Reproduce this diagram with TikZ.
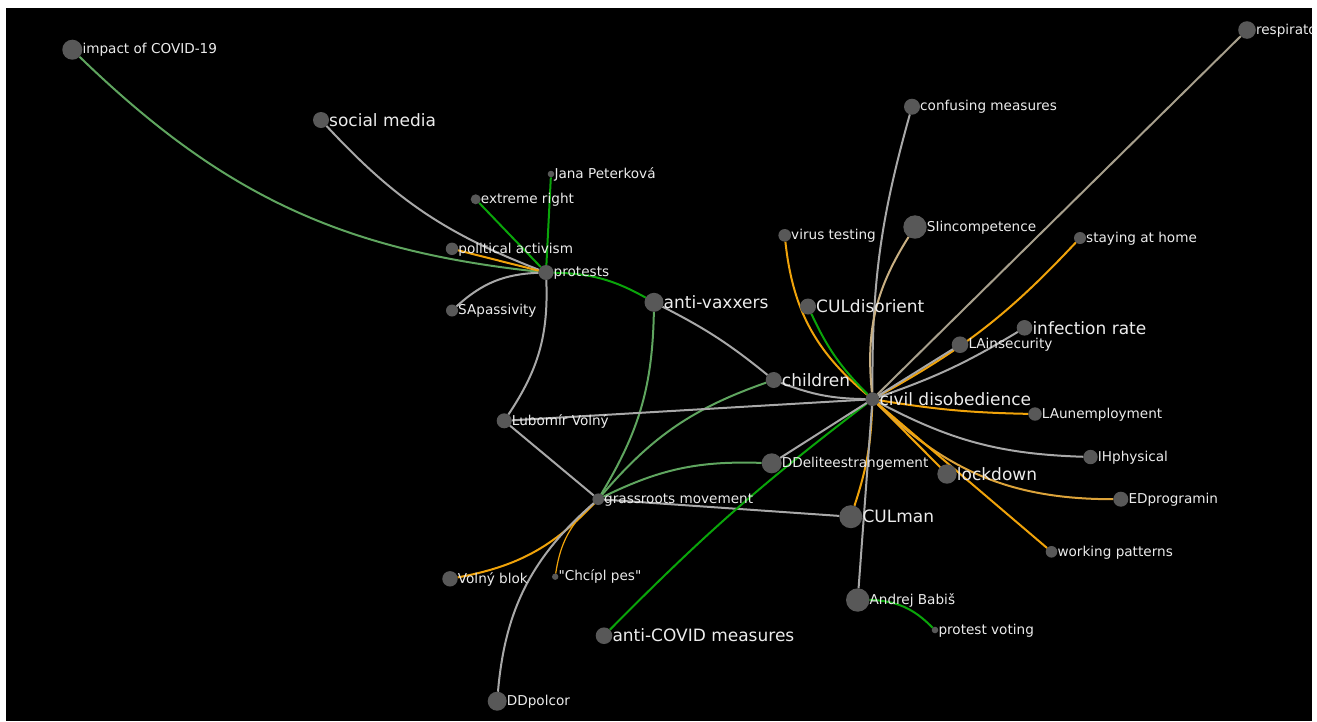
\documentclass[tikz,border=0pt]{standalone}
\usepackage{fontspec}
\setmainfont{DejaVu Sans}
% plain family without TeX ligatures, so " stays a straight quote
\newfontfamily\lblfont{DejaVu Sans}

\definecolor{vtxfill}{HTML}{585858}
\definecolor{lbltext}{HTML}{ECECEC}
\definecolor{lkgray}{HTML}{A8A8A8}
\definecolor{lkpale}{HTML}{5FA55F}
\definecolor{lkgreen}{HTML}{0AA50A}
\definecolor{lkorange}{HTML}{F0A30A}
\definecolor{lkamber}{HTML}{DCA33A}
\definecolor{lktan}{HTML}{C9B083}
\definecolor{lktaupe}{HTML}{A79F8C}

\pgfdeclarelayer{canvas}
\pgfdeclarelayer{links}
\pgfsetlayers{canvas,links,main}

% circle + label, left-anchored text just right of the circle
\newcommand\placenode[6]{%
  \node[vtx, minimum size=#4*2pt] (#1) at (#2,#3) {};
  \node[#5] (#1-t) at (#2+#4,#3) {#6};}

\begin{document}
\begin{tikzpicture}[x=1pt,y=-1pt,
  vtx/.style={circle, fill=vtxfill, inner sep=0pt, outer sep=0pt},
  lblS/.style={anchor=base west, inner sep=0pt, yshift=-4.2pt,
    text=lbltext, font=\lblfont\fontsize{13.6}{16}\selectfont},
  lblL/.style={anchor=base west, inner sep=0pt, yshift=-6.2pt,
    text=lbltext, font=\lblfont\fontsize{17}{20}\selectfont},
  link/.style={line width=2pt},
  lgray/.style={link, draw=lkgray},
  lpale/.style={link, draw=lkpale},
  lgreen/.style={link, draw=lkgreen},
  lorange/.style={link, draw=lkorange},
  lamber/.style={link, draw=lkamber},
  ltan/.style={link, draw=lktan},
  ltaupe/.style={link, draw=lktaupe},
]
\useasboundingbox (0,0) rectangle (1317,721);
\begin{pgfonlayer}{canvas}
  \fill[white] (0,0) rectangle (1317,721);
  \fill[black] (6,8) rectangle (1312,721);
\end{pgfonlayer}

\begin{scope}
\clip (6,8) rectangle (1312,721);
% vertices
\placenode{impact}{72.3}{49.7}{10}{lblS}{impact of COVID-19}
\placenode{resp}{1247}{30}{8.8}{lblS}{respirators}
\placenode{social}{321}{120}{8}{lblL}{social media}
\placenode{jana}{551}{174}{3.3}{lblS}{Jana Peterková}
\placenode{extreme}{475.7}{199.3}{5}{lblS}{extreme right}
\placenode{polact}{452}{248.8}{6.2}{lblS}{political activism}
\placenode{protests}{546}{272.5}{7.5}{lblS}{protests}
\placenode{sapass}{452}{310.5}{6}{lblS}{SApassivity}
\placenode{antivax}{654}{302.3}{9.5}{lblL}{anti-vaxxers}
\placenode{confusing}{912}{106.7}{8}{lblS}{confusing measures}
\placenode{virus}{784.7}{235.3}{6.3}{lblS}{virus testing}
\placenode{siinc}{915}{227}{11.7}{lblS}{SIincompetence}
\placenode{staying}{1080}{238}{6}{lblS}{staying at home}
\placenode{culdis}{808}{306.5}{8}{lblL}{CULdisorient}
\placenode{infection}{1024.5}{327.8}{7.8}{lblL}{infection rate}
\placenode{lains}{960}{344.7}{8.3}{lblS}{LAinsecurity}
\placenode{children}{773.7}{380}{8}{lblL}{children}
\placenode{civil}{872.5}{399.2}{6.8}{lblL}{civil disobedience}
\placenode{volny}{504.2}{420.8}{7.5}{lblS}{Lubomír Volný}
\placenode{launemp}{1035}{414}{6.7}{lblS}{LAunemployment}
\placenode{ihphys}{1090.5}{457}{7.2}{lblS}{IHphysical}
\placenode{ddelite}{771.7}{463.3}{10}{lblS}{DDeliteestrangement}
\placenode{lockdown}{947}{474}{9.7}{lblL}{lockdown}
\placenode{grass}{598.2}{499.2}{5.8}{lblS}{grassroots movement}
\placenode{edprog}{1120.8}{499.2}{7.5}{lblS}{EDprogramin}
\placenode{culman}{850.8}{516.7}{11.5}{lblL}{CULman}
\placenode{working}{1051.5}{551.8}{5.8}{lblS}{working patterns}
\placenode{vblok}{450}{578.8}{7.7}{lblS}{Volný blok}
\placenode{chcipl}{555.2}{576.7}{3.2}{lblS}{"Chcípl pes"}
\placenode{babis}{857.7}{600}{11.7}{lblS}{Andrej Babiš}
\placenode{pvoting}{935}{630}{3.3}{lblS}{protest voting}
\placenode{anticovid}{604}{635.7}{8.3}{lblL}{anti-COVID measures}
\placenode{ddpolcor}{497.2}{701.2}{9.5}{lblS}{DDpolcor}
\end{scope}

% links
\begin{pgfonlayer}{links}
\draw[lpale]   (impact) to[bend right=19] (protests);
\draw[lgray]   (social) to[bend right=13] (protests);
\draw[lgreen]  (extreme) -- (protests);
\draw[lgreen]  (jana) -- (protests);
\draw[lorange] (polact) -- (protests);
\draw[lgray]   (sapass) to[bend left=20] (protests);
\draw[lgray]   (protests) to[bend left=18] (volny);
\draw[lgreen]  (protests) to[bend left=14] (antivax);
\draw[lpale]   (antivax) to[bend left=15] (grass);
\draw[lgray]   (antivax) to[bend left=6] (children);
\draw[lgray]   (children) to[bend right=10] (civil);
\draw[lpale]   (children) to[bend right=15] (grass);
\draw[lpale]   (grass) to[bend left=14] (ddelite);
\draw[lgray]   (grass) -- (culman);
\draw[lgray]   (volny) -- (grass);
\draw[lgray]   (volny) -- (civil);
\draw[lorange] (grass) to[bend left=18] (vblok);
\draw[lorange, line width=1.2pt] (grass) to[bend right=20] (chcipl);
\draw[lgray]   (grass) to[bend right=22] (ddpolcor);
\draw[lgreen]  (anticovid) to[bend left=4] (civil);
\draw[lgray]   (ddelite) -- (civil);
\draw[lorange] (virus) to[bend right=22] (civil);
\draw[lgreen]  (culdis) to[bend right=10] (civil);
\draw[lgray]   (confusing) to[bend right=8] (civil);
\draw[ltan]    (siinc) to[bend right=19] (civil);
\draw[ltaupe]  (resp) -- (civil);
\draw[lorange] (staying) to[bend left=9] (civil);
\draw[lgray]   (lains) -- (civil);
\draw[lgray]   (infection) to[bend left=6] (civil);
\draw[lorange] (civil) to[bend right=4] (launemp);
\draw[lgray]   (civil) to[bend right=13] (ihphys);
\draw[lorange] (civil) -- (lockdown);
\draw[lamber]  (civil) to[bend right=22] (edprog);
\draw[lorange] (civil) -- (working);
\draw[lorange] (civil) to[bend left=8] (culman);
\draw[lgray]   (civil) -- (babis);
\draw[lgreen]  (babis) to[bend left=22] (pvoting);
\end{pgfonlayer}
\end{tikzpicture}
\end{document}
